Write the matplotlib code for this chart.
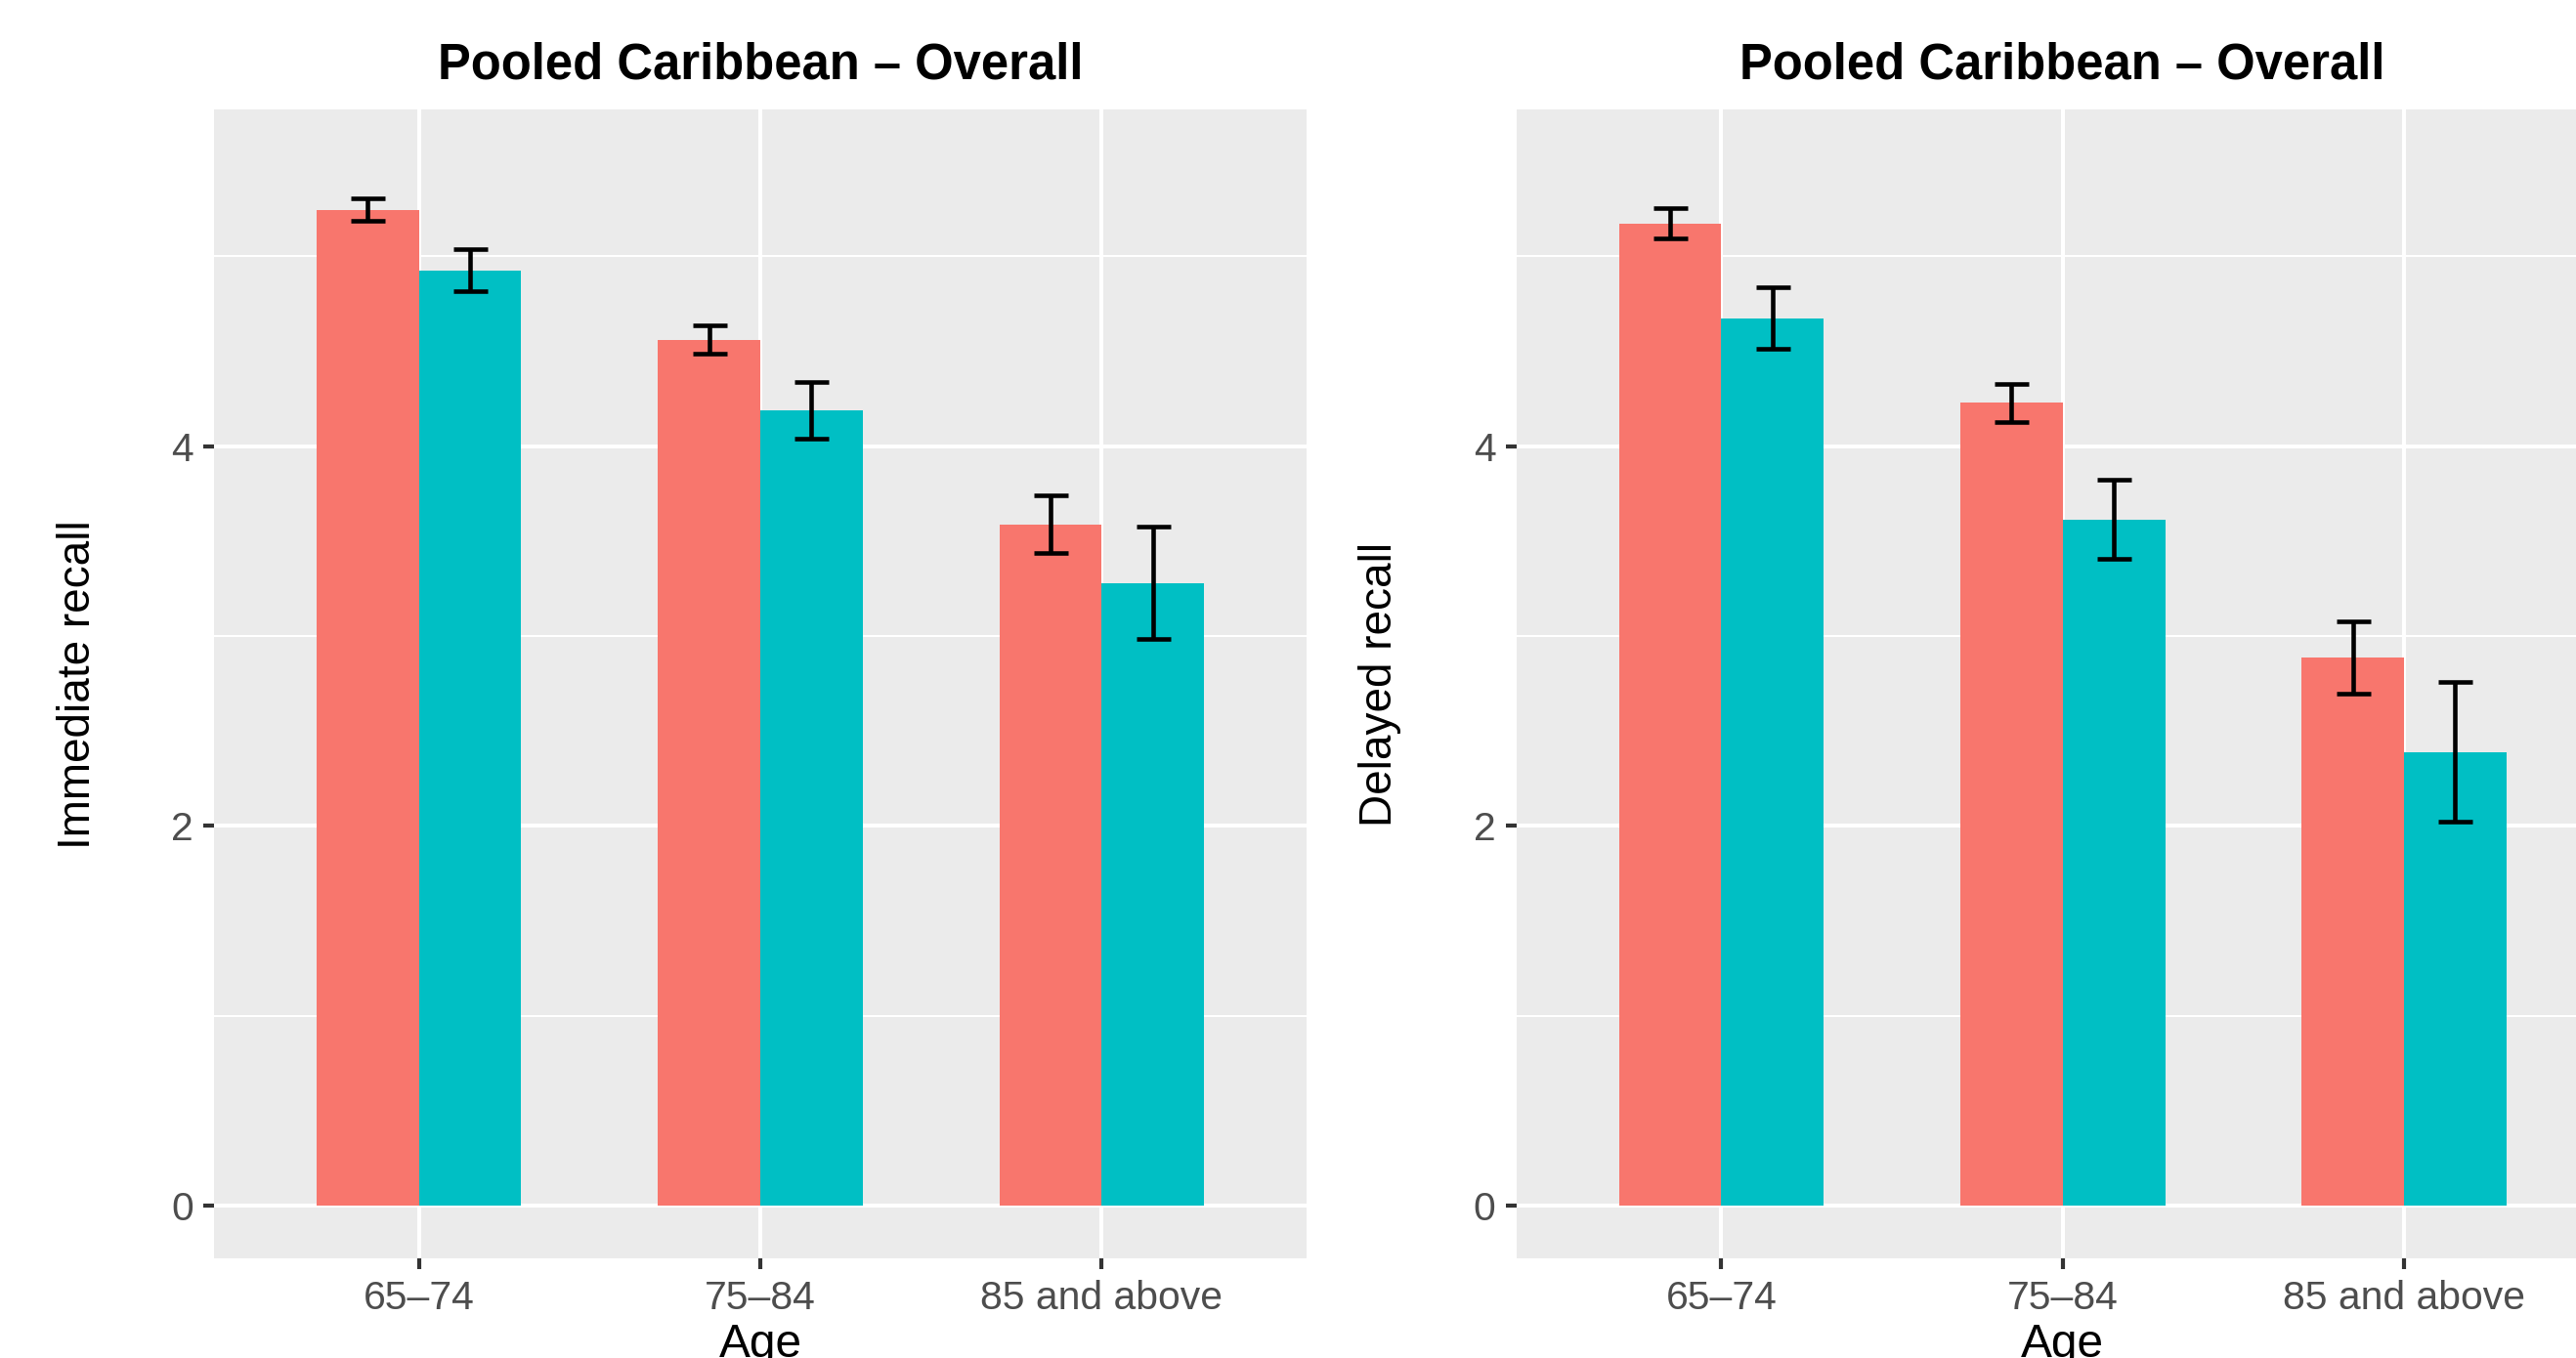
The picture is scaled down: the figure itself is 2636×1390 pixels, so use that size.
import numpy as np
import matplotlib

matplotlib.use("Agg")
import matplotlib.pyplot as plt

W, H, DPI = 2637, 1390, 300

age_groups = ["65\u201374", "75\u201384", "85 and above"]
title = "Pooled Caribbean \u2013 Overall"

# Immediate recall (left panel)
imm_red = [5.243, 4.559, 3.587]
imm_red_lo = [5.187, 4.489, 3.436]
imm_red_hi = [5.304, 4.635, 3.740]
imm_cyan = [4.925, 4.189, 3.278]
imm_cyan_lo = [4.815, 4.040, 2.984]
imm_cyan_hi = [5.039, 4.338, 3.578]

# Delayed recall (right panel)
del_red = [5.171, 4.230, 2.889]
del_red_lo = [5.094, 4.129, 2.699]
del_red_hi = [5.252, 4.328, 3.079]
del_cyan = [4.672, 3.613, 2.388]
del_cyan_lo = [4.514, 3.405, 2.023]
del_cyan_hi = [4.837, 3.825, 2.759]

RED = "#F8766D"
CYAN = "#00BFC4"
PANEL = "#EBEBEB"

plt.rcParams["font.family"] = ["Liberation Sans", "DejaVu Sans"]


def _painel(fig, x0, ylabel, series):
    """x0 = left edge in pixels; panel box copied from the reference."""
    left, right = x0, x0 + 1118
    top, bottom = 112, 1288.3
    ax = fig.add_axes([left / W, 1 - bottom / H, (right - left) / W, (bottom - top) / H])
    ax.set_facecolor(PANEL)
    for s in ax.spines.values():
        s.set_visible(False)

    x = np.arange(1, len(age_groups) + 1)
    larg = 0.3
    for off, (val, lo, hi, cor) in zip((-larg / 2, larg / 2), series):
        val, lo, hi = map(np.asarray, (val, lo, hi))
        ax.bar(x + off, val, width=larg, color=cor, zorder=2)
        ax.errorbar(x + off, val, yerr=[val - lo, hi - val], fmt="none",
                    ecolor="black", elinewidth=1.1, capsize=4.2, capthick=1.1,
                    zorder=3)

    ax.set_xlim(0.4, 3.6)
    ax.set_ylim(-0.278, 5.773)
    ax.set_xticks(x)
    ax.set_xticklabels(age_groups)
    ax.set_yticks([0, 2, 4])
    ax.set_yticks([1, 3, 5], minor=True)
    ax.grid(which="major", color="white", linewidth=0.96, zorder=0)
    ax.grid(which="minor", axis="y", color="white", linewidth=0.5, zorder=0)
    ax.set_axisbelow(True)
    ax.tick_params(which="major", length=2.7, width=1.0, color="#333333",
                   labelcolor="#4D4D4D", labelsize=9.8, pad=2.4)
    ax.tick_params(which="minor", length=0)

    ax.set_xlabel("Age", fontsize=11.5, color="black")
    ax.xaxis.set_label_coords(0.5, -0.056)
    ax.set_ylabel(ylabel, fontsize=11, color="black")
    ax.yaxis.set_label_coords(-0.105, 0.5)
    ax.set_title(title, fontsize=12.2, fontweight="bold", pad=7.5)
    return ax


fig = plt.figure(figsize=(W / DPI, H / DPI), dpi=DPI)
fig.patch.set_facecolor("white")

_painel(fig, 219, "Immediate recall", [
    (imm_red, imm_red_lo, imm_red_hi, RED),
    (imm_cyan, imm_cyan_lo, imm_cyan_hi, CYAN),
])
_painel(fig, 1551.7, "Delayed recall", [
    (del_red, del_red_lo, del_red_hi, RED),
    (del_cyan, del_cyan_lo, del_cyan_hi, CYAN),
])

fig.savefig("out.png", dpi=DPI)
plt.close(fig)
